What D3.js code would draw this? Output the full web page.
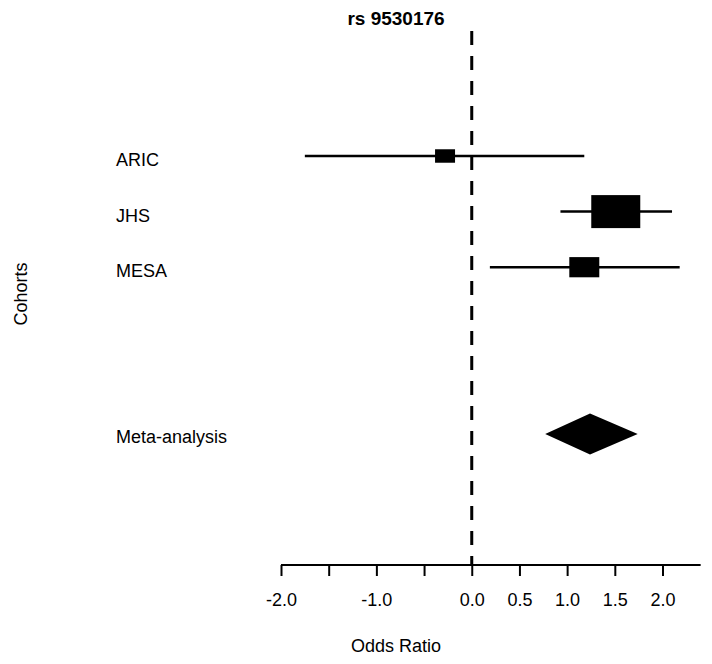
<!DOCTYPE html>
<html>
<head>
<meta charset="utf-8">
<script src="https://cdn.jsdelivr.net/npm/d3@7"></script>
<style>
  html, body { margin: 0; padding: 0; background: #fff; }
  svg { display: block; font-family: "Liberation Sans", Arial, sans-serif; }
</style>
</head>
<body>
<svg id="chart" width="712" height="664"></svg>
<script>
// ---- data ----
const cohorts   = ["ARIC", "JHS", "MESA"];
const estimates = [-0.28, 1.51, 1.18];
const lowerCI   = [-1.75, 0.93, 0.19];
const upperCI   = [1.18, 2.10, 2.18];
const weights   = [10.8, 64.9, 24.3];
const rowIndex  = [0, 1, 2];

const metaLabel    = "Meta-analysis";
const metaEstimate = 1.24;
const metaLower    = 0.77;
const metaUpper    = 1.74;
const metaRow      = 5;

const tickValues = [-2.0, -1.5, -1.0, -0.5, 0.0, 0.5, 1.0, 1.5, 2.0];
const tickLabels = ["-2.0", "", "-1.0", "", "0.0", "0.5", "1.0", "1.5", "2.0"];

const title  = "rs 9530176";
const xTitle = "Odds Ratio";
const yTitle = "Cohorts";

// ---- scales ----
const svg = d3.select("#chart");
const x = d3.scaleLinear().domain([-2, 2]).range([281, 662.5]);
const y = d3.scaleLinear().domain([0, 5]).range([156, 434]);
const axisY = 565;
const boxW = d3.scaleSqrt().domain([0, 64.9]).range([0, 49]);
const boxH = d3.scaleSqrt().domain([0, 64.9]).range([0, 33]);

// title
svg.append("text")
  .attr("x", 396).attr("y", 25)
  .attr("text-anchor", "middle")
  .attr("font-size", 19).attr("font-weight", "bold")
  .text(title);

// reference dashed line at 0
svg.append("line")
  .attr("x1", x(0)).attr("x2", x(0))
  .attr("y1", 31).attr("y2", axisY)
  .attr("stroke", "#000").attr("stroke-width", 3)
  .attr("stroke-dasharray", "14,11");

// axis
const axis = d3.axisBottom(x)
  .tickValues(tickValues)
  .tickSize(11)
  .tickPadding(17)
  .tickFormat((d, i) => tickLabels[i]);
const gAxis = svg.append("g")
  .attr("transform", `translate(0,${axisY})`)
  .call(axis);
gAxis.select(".domain").remove();
gAxis.append("line")
  .attr("x1", x(-2)).attr("x2", x(2.4))
  .attr("y1", 0).attr("y2", 0)
  .attr("stroke", "#000").attr("stroke-width", 2);
gAxis.selectAll(".tick line").attr("stroke", "#000").attr("stroke-width", 2);
gAxis.selectAll(".tick text")
  .attr("font-size", 18)
  .attr("font-family", "'Liberation Sans', Arial, sans-serif")
  .attr("fill", "#000");

// axis titles
svg.append("text")
  .attr("x", 396).attr("y", 652)
  .attr("text-anchor", "middle")
  .attr("font-size", 18)
  .text(xTitle);
svg.append("text")
  .attr("transform", "translate(27,294) rotate(-90)")
  .attr("text-anchor", "middle")
  .attr("font-size", 18)
  .text(yTitle);

// cohort rows
const rows = cohorts.map((c, i) => ({
  name: c, est: estimates[i], lo: lowerCI[i], hi: upperCI[i], w: weights[i], row: rowIndex[i]
}));

const g = svg.append("g");
g.selectAll("line.ci").data(rows).join("line")
  .attr("class", "ci")
  .attr("x1", d => x(d.lo)).attr("x2", d => x(d.hi))
  .attr("y1", d => y(d.row)).attr("y2", d => y(d.row))
  .attr("stroke", "#000").attr("stroke-width", 2.5);
g.selectAll("rect.box").data(rows).join("rect")
  .attr("class", "box")
  .attr("x", d => x(d.est) - boxW(d.w) / 2)
  .attr("y", d => y(d.row) - boxH(d.w) / 2)
  .attr("width", d => boxW(d.w))
  .attr("height", d => boxH(d.w))
  .attr("fill", "#000");
g.selectAll("text.label").data(rows).join("text")
  .attr("class", "label")
  .attr("x", 116).attr("y", d => y(d.row) + 10)
  .attr("font-size", 18)
  .text(d => d.name);

// meta-analysis diamond
const my = y(metaRow);
svg.append("path")
  .attr("d", d3.line()([
    [x(metaLower), my],
    [x(metaEstimate), my - 20.5],
    [x(metaUpper), my],
    [x(metaEstimate), my + 20.5]
  ]) + "Z")
  .attr("fill", "#000");
svg.append("text")
  .attr("x", 116).attr("y", my + 9)
  .attr("font-size", 18)
  .text(metaLabel);
</script>
</body>
</html>
